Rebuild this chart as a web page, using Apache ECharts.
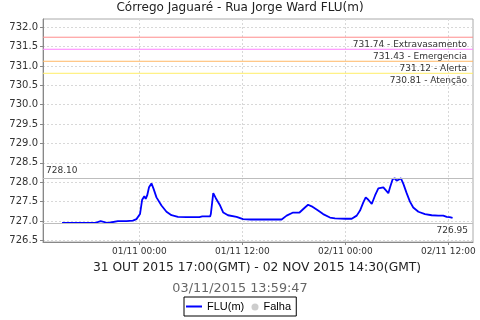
<!DOCTYPE html>
<html><head><meta charset="utf-8">
<script src="https://cdn.jsdelivr.net/npm/echarts@6/dist/echarts.min.js"></script>
<style>html,body{margin:0;padding:0;background:#fff}#c{width:480px;height:320px}</style>
</head><body><div id="c"></div>
<script>
const titleText = 'Córrego Jaguaré - Rua Jorge Ward FLU(m)';
const periodText = '31 OUT 2015 17:00(GMT) - 02 NOV 2015 14:30(GMT)';
const stampText = '03/11/2015 13:59:47';
const seriesName = 'FLU(m)';
const failName = 'Falha';

const times = [
 '31/10 15:00','31/10 16:00','31/10 17:00','31/10 18:00','31/10 18:50','31/10 18:55','31/10 19:30','31/10 19:37',
 '31/10 20:20','31/10 20:25','31/10 21:30','31/10 22:30','31/10 23:15','31/10 23:40',
 '01/11 00:05','01/11 00:20','01/11 00:35','01/11 00:45','01/11 00:55','01/11 01:08','01/11 01:25','01/11 01:40',
 '01/11 02:00','01/11 02:35','01/11 03:10','01/11 03:45','01/11 04:30','01/11 05:30','01/11 06:30','01/11 06:40',
 '01/11 07:00','01/11 07:20','01/11 08:15','01/11 08:20','01/11 08:37','01/11 08:55','01/11 09:25','01/11 09:47',
 '01/11 10:20','01/11 11:20','01/11 12:05','01/11 13:00','01/11 14:00','01/11 15:00','01/11 16:35','01/11 17:10',
 '01/11 17:55','01/11 18:40','01/11 19:18','01/11 19:40','01/11 20:05','01/11 20:50','01/11 21:25','01/11 22:13',
 '01/11 22:48','02/11 00:00','02/11 00:45','02/11 00:56','02/11 01:20','02/11 01:43','02/11 02:06','02/11 02:23',
 '02/11 02:41','02/11 03:05','02/11 03:28','02/11 03:51','02/11 04:03','02/11 04:26','02/11 04:38','02/11 05:01',
 '02/11 05:13','02/11 05:31','02/11 05:47','02/11 05:59','02/11 06:11','02/11 06:29','02/11 06:46','02/11 07:09',
 '02/11 07:32','02/11 07:55','02/11 08:31','02/11 09:17','02/11 10:04','02/11 10:50','02/11 11:25','02/11 11:49',
 '02/11 12:10','02/11 12:30'
];
const levels = [
 726.95,726.95,726.95,726.95,726.95,727.00,727.00,726.95,
 726.95,727.00,727.00,727.00,727.01,727.05,
 727.18,727.55,727.64,727.57,727.66,727.87,727.97,727.83,
 727.61,727.40,727.24,727.15,727.11,727.10,727.10,727.13,
 727.10,727.12,727.12,727.18,727.72,727.59,727.40,727.22,
 727.15,727.11,727.05,727.04,727.04,727.04,727.04,727.14,
 727.22,727.22,727.35,727.42,727.38,727.27,727.18,727.09,
 727.07,727.06,727.06,727.04,727.14,727.27,727.48,727.61,
 727.55,727.44,727.66,727.84,727.81,727.87,727.83,727.72,
 727.87,728.08,728.10,728.04,728.03,728.10,727.96,727.72,
 727.50,727.35,727.24,727.18,727.15,727.14,727.14,727.11,
 727.10,727.08
];

const xTickHours = [24, 36, 48, 60];
const xTickLabels = ['01/11 00:00', '01/11 12:00', '02/11 00:00', '02/11 12:00'];
const xRange = [12.78, 62.88];
const yTicks = [726.5, 727.0, 727.5, 728.0, 728.5, 729.0, 729.5, 730.0, 730.5, 731.0, 731.5, 732.0];
const yRange = [726.46, 732.21];

const thresholdValues = [731.74, 731.43, 731.12, 730.81];
const thresholdNames = ['Extravasamento', 'Emergencia', 'Alerta', 'Atenção'];
const thresholdColors = ['#ff8c8c', '#ff80ff', '#ffb866', '#ffee66'];

function toHours(s) {
  const [d, hm] = s.split(' ');
  const [dd, mm] = d.split('/').map(Number);
  const [h, m] = hm.split(':').map(Number);
  const dayOff = mm === 10 ? (dd - 31) * 24 : dd * 24;
  return dayOff + h + m / 60;
}
const points = times.map((t, i) => [toHours(t), levels[i]]);

const FONT = 'DejaVu Sans';
const thresholdSeries = thresholdValues.map((v, i) => ({
  name: 'limite' + i, type: 'line', silent: true, z: 1,
  symbol: 'circle', symbolSize: 0, showSymbol: true,
  lineStyle: { color: thresholdColors[i], width: 1, type: 'solid' },
  itemStyle: { color: thresholdColors[i] },
  emphasis: { disabled: true },
  data: [
    [xRange[0], v],
    { value: [xRange[1], v], label: {
        show: true, position: [-6, 3], align: 'right', verticalAlign: 'top',
        formatter: v.toFixed(2) + ' - ' + thresholdNames[i],
        fontFamily: FONT, fontSize: 9, color: '#333' } }
  ]
}));

const chart = echarts.init(document.getElementById('c'), null, { renderer: 'canvas' });
chart.setOption({
  animation: false,
  backgroundColor: '#fff',
  title: [
    { text: titleText, left: 'center', top: 2, padding: 0,
      textStyle: { fontFamily: FONT, fontSize: 12, fontWeight: 'normal', color: '#222' } },
    { text: periodText, left: 257, textAlign: 'center', top: 262, padding: 0,
      textStyle: { fontFamily: FONT, fontSize: 12.3, fontWeight: 'normal', color: '#222' } },
    { text: stampText, left: 240, textAlign: 'center', top: 282, padding: 0,
      textStyle: { fontFamily: FONT, fontSize: 12.8, fontWeight: 'normal', color: '#666' } }
  ],
  legend: [
    { data: [{ name: seriesName, icon: 'rect' }], left: 184, top: 297, itemWidth: 16, itemHeight: 2, itemGap: 0,
      padding: [4, 52, 4, 2], borderColor: '#000', borderWidth: 1,
      textStyle: { fontFamily: 'Liberation Sans', fontSize: 11, color: '#000' } },
    { data: [{ name: failName, icon: 'circle' }], left: 251.5, top: 301.5, itemWidth: 7, itemHeight: 7,
      padding: 0, textStyle: { fontFamily: 'Liberation Sans', fontSize: 11, color: '#000' } }
  ],
  grid: { left: 43, right: 7, top: 19, bottom: 78, show: true, borderColor: '#aaa', borderWidth: 1, containLabel: false },
  xAxis: {
    type: 'value', min: xRange[0], max: xRange[1],
    axisLine: { show: true, lineStyle: { color: '#888' } },
    axisTick: { show: true, length: 3, customValues: xTickHours, lineStyle: { color: '#888' } },
    axisLabel: { customValues: xTickHours, margin: 5, fontFamily: FONT, fontSize: 9, color: '#333',
      formatter: v => { const i = xTickHours.indexOf(v); return i >= 0 ? xTickLabels[i] : ''; } },
    splitLine: { show: true, lineStyle: { color: '#d8d8d8', type: [2, 2] } }
  },
  yAxis: {
    type: 'value', min: yRange[0], max: yRange[1],
    axisLine: { show: true, lineStyle: { color: '#888' } },
    axisTick: { show: true, length: 3, customValues: yTicks, lineStyle: { color: '#888' } },
    axisLabel: { customValues: yTicks, margin: 5, fontFamily: FONT, fontSize: 10, color: '#333',
      formatter: v => v.toFixed(1) },
    splitLine: { show: true, lineStyle: { color: '#d8d8d8', type: [2, 2] } }
  },
  series: [
    ...thresholdSeries,
    { name: seriesName, type: 'line', data: points, symbol: 'none', showSymbol: false, z: 3,
      lineStyle: { color: '#0000ff', width: 1.8 }, itemStyle: { color: '#0000ff' },
      markLine: { silent: true, symbol: 'none', animation: false,
        lineStyle: { color: '#bdbdbd', width: 1, type: 'solid' },
        data: [
          { type: 'max', label: { show: true, position: 'insideStartTop', formatter: p => Number(p.value).toFixed(2),
              fontFamily: FONT, fontSize: 9, color: '#333', distance: [3, 3] } },
          { type: 'min', label: { show: true, position: 'insideEndBottom', formatter: p => Number(p.value).toFixed(2),
              fontFamily: FONT, fontSize: 9, color: '#333', distance: [5, 3] } }
        ] } },
    { name: failName, type: 'scatter', data: [], itemStyle: { color: '#c0c0c0' } }
  ]
});
</script></body></html>
